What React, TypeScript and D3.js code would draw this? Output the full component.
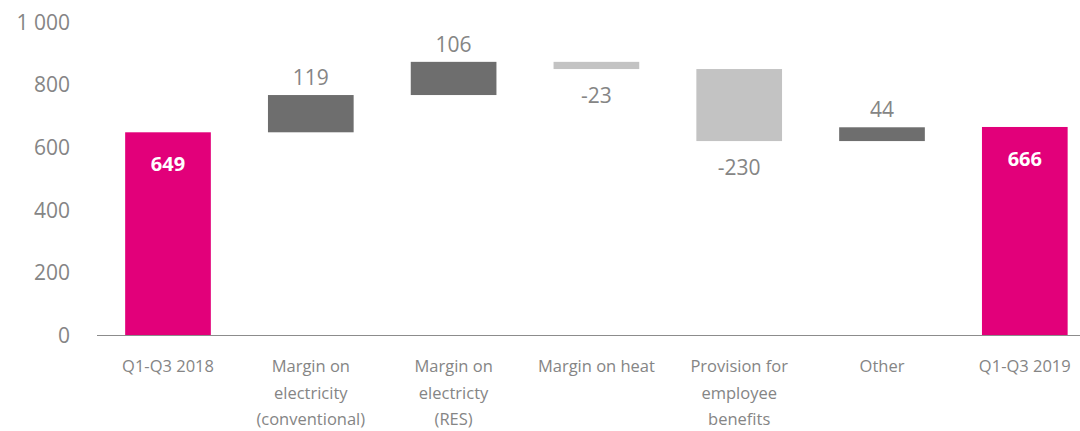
import React from "react";
import * as d3 from "d3";

const categories: string[][] = [
  ["Q1-Q3 2018"],
  ["Margin on", "electricity", "(conventional)"],
  ["Margin on", "electricty", "(RES)"],
  ["Margin on heat"],
  ["Provision for", "employee", "benefits"],
  ["Other"],
  ["Q1-Q3 2019"],
];
const kinds = ["total", "delta", "delta", "delta", "delta", "delta", "total"];
const values = [649, 119, 106, -23, -230, 44, 666];
const yTicks = [0, 200, 400, 600, 800, 1000];

const W = 1080;
const H = 431;
const PINK = "#E2007A";
const DARK = "#6E6E6E";
const LIGHT = "#C3C3C3";
const TEXT = "#858585";
const FONT = "'Open Sans', 'Noto Sans', sans-serif";

export default function App() {
  const x = d3
    .scaleBand<number>()
    .domain(d3.range(values.length))
    .range([96.6, 96.6 + 142.8 * 7])
    .paddingInner(0.4)
    .paddingOuter(0.2);
  const y = d3.scaleLinear().domain([0, 1000]).range([335.5, 22.4]);

  let run = 0;
  const bars = values.map((v, i) => {
    let lo: number, hi: number;
    if (kinds[i] === "total") {
      lo = 0;
      hi = v;
      run = v;
    } else {
      const start = run;
      run = run + v;
      lo = Math.min(start, run);
      hi = Math.max(start, run);
    }
    return { i, v, lo, hi, kind: kinds[i] };
  });

  const fmt = (v: number) => d3.format(",")(v).replace(/,/g, " ");

  return (
    <svg
      width={W}
      height={H}
      style={{ position: "absolute", left: 0, top: 0, background: "#fff" }}
    >
      {yTicks.map((t) => (
        <text
          key={t}
          x={70}
          y={y(t)}
          dy="0.35em"
          textAnchor="end"
          fontFamily={FONT}
          fontSize={21}
          fill={TEXT}
        >
          {fmt(t)}
        </text>
      ))}
      {bars.map((b) => {
        const bx = x(b.i)!;
        const bw = x.bandwidth();
        const fill =
          b.kind === "total" ? PINK : b.v >= 0 ? DARK : LIGHT;
        const top = y(b.hi);
        const bottom = y(b.lo);
        const cx = bx + bw / 2;
        return (
          <g key={b.i}>
            <rect x={bx} y={top} width={bw} height={bottom - top} fill={fill} />
            {b.kind === "total" ? (
              <text
                x={cx}
                y={top + 39}
                textAnchor="middle"
                fontFamily={FONT}
                fontWeight={700}
                fontSize={20}
                fill="#fff"
              >
                {fmt(b.v)}
              </text>
            ) : b.v >= 0 ? (
              <text
                x={cx}
                y={top - 10}
                textAnchor="middle"
                fontFamily={FONT}
                fontSize={21}
                fill={TEXT}
              >
                {fmt(b.v)}
              </text>
            ) : (
              <text
                x={cx}
                y={bottom + 34}
                textAnchor="middle"
                fontFamily={FONT}
                fontSize={21}
                fill={TEXT}
              >
                {"-" + fmt(Math.abs(b.v))}
              </text>
            )}
          </g>
        );
      })}
      <line x1={97} x2={W} y1={335.5} y2={335.5} stroke="#8C8C8C" strokeWidth={1.2} />
      {categories.map((lines, i) => (
        <text
          key={i}
          textAnchor="middle"
          fontFamily={FONT}
          fontSize={16.5}
          fill={TEXT}
        >
          {lines.map((l, j) => (
            <tspan key={j} x={x(i)! + x.bandwidth() / 2} y={372 + j * 26.5}>
              {l}
            </tspan>
          ))}
        </text>
      ))}
    </svg>
  );
}
